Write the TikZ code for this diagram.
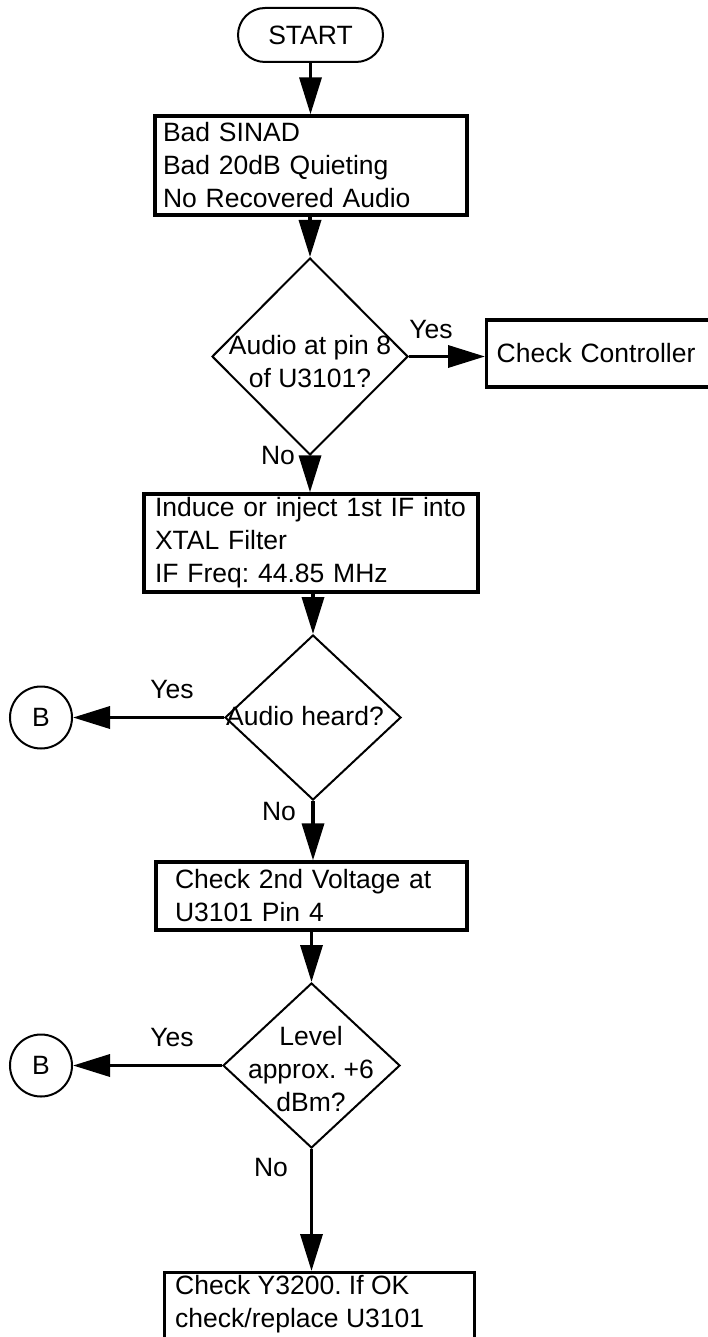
\documentclass[tikz,border=0pt]{standalone}
\usepackage{fontspec}
\setmainfont{Liberation Sans}
\usetikzlibrary{shapes.geometric,arrows.meta,calc}
\frenchspacing
\begin{document}
\begin{tikzpicture}[x=1pt,y=-1pt,
  font=\fontsize{26.5}{33}\selectfont,
  procbox/.style={draw, rectangle, line width=3.3pt, align=left, inner ysep=0pt},
  dec/.style={draw, diamond, line width=2pt, inner sep=0pt},
  lbl/.style={align=center, inner sep=0pt},
  term/.style={draw, rectangle, rounded corners=27pt, line width=2pt, minimum width=145pt, minimum height=54pt, inner sep=0pt},
  conn/.style={draw, circle, line width=2pt, minimum size=62pt, inner sep=0pt},
  arr/.style={line width=3.5pt, -{Triangle[length=37pt,width=22pt]}}]
\clip (0,0) rectangle (708,1337);
\fill[white] (0,0) rectangle (708,1337);

\node[term] (s) at (310.5,35) {START};
\node[procbox, text width=296pt, inner xsep=8pt, minimum height=99pt] (b1) at (311,165.5) {Bad SINAD\\Bad 20dB Quieting\\No Recovered Audio};
\node[dec, minimum width=196pt, minimum height=197pt] (d1) at (310,356.5) {};
\node[lbl] (d1t) at (310,361.5) {Audio at pin 8\\of U3101?};
\node[procbox, text width=215pt, inner xsep=10pt, minimum height=67pt, anchor=west] (cc) at (485,353.5) {Check Controller};
\node[procbox, text width=312pt, inner xsep=11pt, minimum height=98pt] (b2) at (311,543) {Induce or inject 1st IF into\\XTAL Filter\\IF Freq: 44.85 MHz};
\node[dec, minimum width=176pt, minimum height=165pt] (d2) at (313,717.5) {};
\node[lbl] (d2t) at (305,716) {Audio heard?};
\node[conn] (B1) at (41,717.5) {B};
\node[procbox, text width=273pt, inner xsep=19pt, minimum height=68pt] (b3) at (311.5,896) {Check 2nd Voltage at\\U3101 Pin 4};
\node[dec, minimum width=177pt, minimum height=165pt] (d3) at (311.5,1065.5) {};
\node[lbl] (d3t) at (311,1069) {Level\\approx. +6\\dBm?};
\node[conn] (B2) at (41,1065.5) {B};
\node[procbox, minimum width=310pt, minimum height=100pt, anchor=north west] (b4) at (163,1271) {};
\node[lbl, anchor=west, align=left] (b4t) at (175,1304) {Check Y3200. If OK\\check/replace U3101};

\node[lbl] (y1) at (431,330) {Yes};
\node[lbl] (n1) at (278,456) {No};
\node[lbl] (y2) at (172,690) {Yes};
\node[lbl] (n2) at (279,812) {No};
\node[lbl] (y3) at (172,1038) {Yes};
\node[lbl] (n3) at (271,1167) {No};

\draw[arr] (s.south) -- (s.south |- b1.north);
\draw[arr] (d1.north |- b1.south) -- (d1.north);
\draw[arr] (d1.south) -- (d1.south |- b2.north);
\draw[arr] (d1.east) -- (d1.east -| cc.west);
\draw[arr] (d2.north |- b2.south) -- (d2.north);
\draw[arr] (d2.west) -- (B1.east);
\draw[arr] (d2.south) -- (d2.south |- b3.north);
\draw[arr] (d3.north |- b3.south) -- (d3.north);
\draw[arr] (d3.west) -- (B2.east);
\draw[arr] (d3.south) -- (d3.south |- b4.north);
\end{tikzpicture}
\end{document}
